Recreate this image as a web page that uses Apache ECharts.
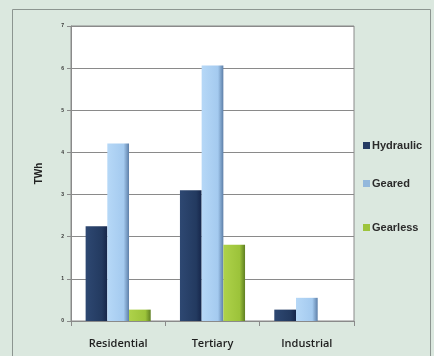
<!DOCTYPE html>
<html>
<head>
<meta charset="utf-8">
<script src="https://cdn.jsdelivr.net/npm/echarts@6/dist/echarts.min.js"></script>
<style>
  html, body { margin: 0; padding: 0; background: #ffffff; }
  #chart { width: 434px; height: 356px; }
</style>
</head>
<body>
<div id="chart"></div>
<script>
// Electricity use of lift drive types by sector (TWh)
var categories = ['Residential', 'Tertiary', 'Industrial'];
var hydraulic = [2.25, 3.1, 0.27];
var geared = [4.21, 6.06, 0.55];
var gearless = [0.27, 1.81, 0];
var yTicks = [0, 1, 2, 3, 4, 5, 6, 7];

var FONT = '"Liberation Sans Narrow", "Liberation Sans", Arial, sans-serif';
var LABEL_FONT = '"Open Sans", "Liberation Sans", Arial, sans-serif';

function barGrad(light, mid, dark) {
  return new echarts.graphic.LinearGradient(0, 0, 1, 0, [
    { offset: 0, color: light },
    { offset: 0.75, color: mid },
    { offset: 1, color: dark }
  ]);
}

var names = ['Hydraulic', 'Geared', 'Gearless'];
var swatch = ['#243a62', '#a8cdf1', '#9dc43c'];

var chart = echarts.init(document.getElementById('chart'), null, { renderer: 'canvas' });

function legendAt(name, top, color) {
  return {
    data: [name],
    left: 363,
    top: top,
    orient: 'vertical',
    icon: 'rect',
    itemWidth: 7,
    itemHeight: 7,
    itemGap: 0,
    padding: 0,
    itemStyle: { color: color, borderWidth: 0 },
    textStyle: { fontFamily: FONT, fontSize: 11, fontWeight: 'bold', color: '#2a2a2a', padding: [0, 0, 0, -3] }
  };
}

chart.setOption({
  backgroundColor: '#dbe8df',
  animation: false,
  graphic: [
    {
      type: 'rect',
      shape: { x: 12.5, y: 9.5, width: 418, height: 360 },
      style: { fill: 'none', stroke: '#8c9590', lineWidth: 1 },
      silent: true,
      z: -1
    }
  ],
  legend: [
    legendAt('Hydraulic', 140, swatch[0]),
    legendAt('Geared', 178, '#93b8dc'),
    legendAt('Gearless', 222, swatch[2])
  ],
  grid: {
    left: 71, right: 80, top: 26, bottom: 35,
    show: true,
    backgroundColor: '#ffffff',
    borderColor: '#8a8a8a',
    borderWidth: 1
  },
  xAxis: {
    type: 'category',
    data: categories,
    axisLine: { lineStyle: { color: '#8a8a8a', width: 1 } },
    axisTick: { show: true, length: 5, lineStyle: { color: '#8a8a8a' } },
    axisLabel: { fontFamily: LABEL_FONT, fontSize: 11, fontWeight: 600, color: '#1e1e1e', margin: 17 }
  },
  yAxis: {
    type: 'value',
    min: yTicks[0],
    max: yTicks[yTicks.length - 1],
    interval: 1,
    name: 'TWh',
    nameLocation: 'middle',
    nameGap: 27,
    nameRotate: 90,
    nameTextStyle: { fontFamily: FONT, fontSize: 10, fontWeight: 'bold', color: '#222222' },
    axisLine: { show: true, lineStyle: { color: '#8a8a8a' } },
    axisTick: { show: true, length: 4, lineStyle: { color: '#8a8a8a' } },
    axisLabel: { fontFamily: FONT, fontSize: 5, fontWeight: 'bold', color: '#333333', margin: 7 },
    splitLine: { lineStyle: { color: '#8a8a8a', width: 1 } }
  },
  series: [
    {
      name: names[0], type: 'bar', data: hydraulic,
      barGap: '0%', barCategoryGap: '31%',
      itemStyle: { color: barGrad('#2e4872', '#233a60', '#16264a'), borderWidth: 0 }
    },
    {
      name: names[1], type: 'bar', data: geared,
      itemStyle: { color: barGrad('#b6d8f7', '#a4caef', '#5d7fa8'), borderWidth: 0 }
    },
    {
      name: names[2], type: 'bar', data: gearless,
      itemStyle: { color: barGrad('#aed24a', '#9cc33a', '#5f7f22'), borderWidth: 0 }
    }
  ],
  color: swatch
});
</script>
</body>
</html>
